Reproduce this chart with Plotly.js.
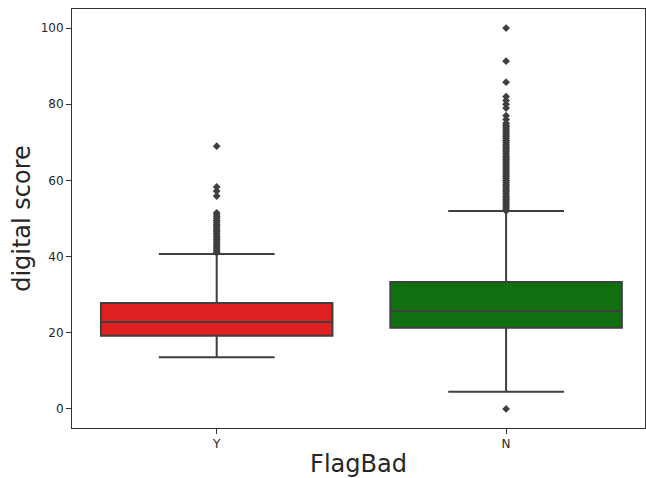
<!DOCTYPE html>
<html>
<head>
<meta charset="utf-8">
<script src="https://cdn.plot.ly/plotly-3.0.1.min.js"></script>
<style>html,body{margin:0;padding:0;overflow:hidden;background:#fff}</style>
</head>
<body>
<div id="chart" style="width:646px;height:478px"></div>
<script>
const categories = ['Y', 'N'];
const boxColors = ['rgb(223,32,32)', 'rgb(16,112,16)'];
const q1 = [19.2, 21.3];
const median = [22.8, 25.7];
const q3 = [27.8, 33.3];
const lowerWhisker = [13.6, 4.5];
const upperWhisker = [40.7, 52.0];
const outliersY = [41, 41.5, 42, 42.5, 43, 43.5, 44, 44.5, 45, 45.5, 46, 46.5, 47, 47.5, 48, 48.5, 49, 49.5, 50, 50.5, 51, 51.5, 55.9, 57.2, 58.3, 69];
const outliersN = [0, 52, 52.5, 53, 53.5, 54, 54.5, 55, 55.5, 56, 56.5, 57, 57.5, 58, 58.5, 59, 59.5, 60, 60.5, 61, 61.5, 62, 62.5, 63, 63.5, 64, 64.5, 65, 65.5, 66, 66.5, 67, 67.5, 68, 68.5, 69, 69.5, 70, 70.5, 71, 71.5, 72, 72.5, 73, 73.5, 74, 74.5, 75, 76, 77, 79, 80, 81, 82, 85.8, 91.3, 100];
const outliers = [outliersY, outliersN];

const lineColor = 'rgb(63,63,63)';
const traces = [];
categories.forEach((c, i) => {
  traces.push({
    type: 'box',
    x: [i],
    q1: [q1[i]], median: [median[i]], q3: [q3[i]],
    lowerfence: [lowerWhisker[i]], upperfence: [upperWhisker[i]],
    fillcolor: boxColors[i],
    line: {color: lineColor, width: 2},
    width: 0.8,
    whiskerwidth: 0.5,
    boxpoints: false,
    showlegend: false,
    hoverinfo: 'skip'
  });
  traces.push({
    type: 'scatter', mode: 'markers',
    x: outliers[i].map(() => i),
    y: outliers[i],
    marker: {symbol: 'diamond', size: 6, color: lineColor},
    showlegend: false,
    hoverinfo: 'skip'
  });
});

const layout = {
  width: 646, height: 478,
  margin: {l: 72, r: 1, t: 9, b: 50},
  paper_bgcolor: '#fff', plot_bgcolor: '#fff',
  font: {family: 'DejaVu Sans', color: '#262626'},
  xaxis: {
    range: [-0.5, 1.48],
    tickvals: [0, 1], ticktext: categories,
    showgrid: false, zeroline: false,
    showline: true, mirror: true, linecolor: '#333', linewidth: 1,
    ticks: 'outside', ticklen: 5, tickcolor: '#333',
    tickfont: {size: 12, color: '#262626'},
    title: {text: 'FlagBad', font: {size: 24, color: '#262626'}, standoff: 6}
  },
  yaxis: {
    range: [-5, 105],
    tickvals: [0, 20, 40, 60, 80, 100],
    showgrid: false, zeroline: false,
    showline: true, mirror: true, linecolor: '#333', linewidth: 1,
    ticks: 'outside', ticklen: 5, tickcolor: '#333',
    tickfont: {size: 12, color: '#262626'},
    title: {text: 'digital score', font: {size: 24, color: '#262626'}, standoff: 3}
  }
};
Plotly.newPlot('chart', traces, layout, {staticPlot: true, displayModeBar: false});
</script>
</body>
</html>
